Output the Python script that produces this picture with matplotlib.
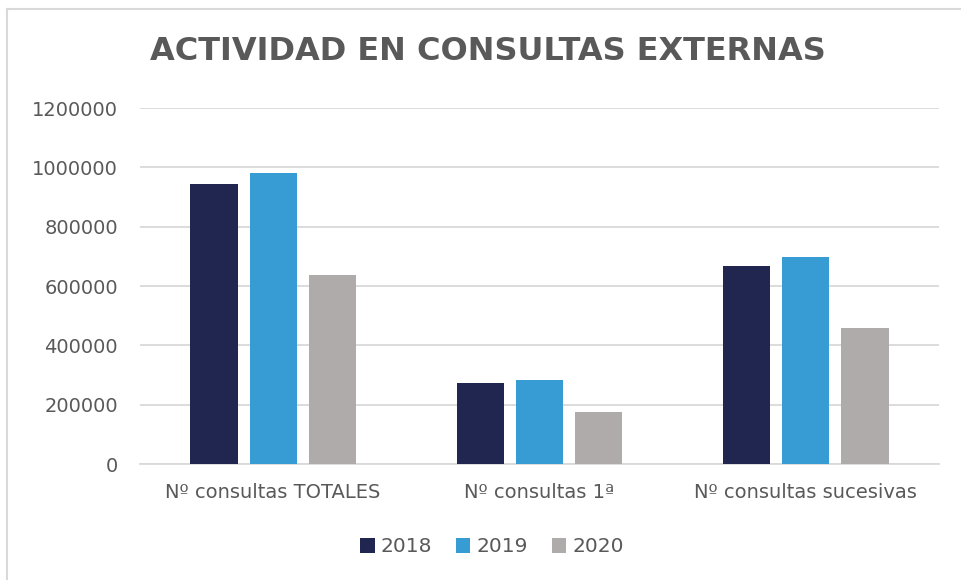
#! /usr/bin/env python3

import numpy as np
import matplotlib.pyplot as plt
from matplotlib.lines import Line2D
from matplotlib.ticker import FuncFormatter

categories = ['Nº consultas TOTALES', 'Nº consultas 1ª', 'Nº consultas sucesivas']
years = ['2018', '2019', '2020']
v2018 = [944000, 273000, 669000]
v2019 = [981000, 283000, 698000]
v2020 = [636000, 176000, 460000]
colors = ['#212650', '#389CD4', '#AFABAB']
grey = '#595959'

W, H = 961, 580
fig = plt.figure(figsize=(W/100, H/100), dpi=100)
ax = fig.add_axes([140/W, 1 - 464/H, (939-140)/W, (464-108)/H])

x = np.arange(len(categories))
width = 0.177
step = 0.222
for i, (vals, lab) in enumerate(zip([v2018, v2019, v2020], years)):
    ax.bar(x + (i-1)*step, vals, width, color=colors[i], label=lab, zorder=3)

ax.set_xlim(-0.5, 2.5)
ax.set_ylim(0, 1200000)
ax.set_yticks(np.arange(0, 1200001, 200000))
ax.yaxis.set_major_formatter(FuncFormatter(lambda v, p: '%d' % v))
ax.yaxis.grid(True, color='#D9D9D9', linewidth=1.3, zorder=0)
ax.set_xticks(x)
ax.set_xticklabels(categories)
ax.tick_params(axis='both', length=0, labelcolor=grey, labelsize=14)
ax.tick_params(axis='x', pad=14)
ax.tick_params(axis='y', pad=16)
for s in ['top', 'right', 'left']:
    ax.spines[s].set_visible(False)
ax.spines['bottom'].set_color('#D9D9D9')
ax.spines['bottom'].set_linewidth(1.3)

fig.text(488/W, 1 - 52/H, 'ACTIVIDAD EN CONSULTAS EXTERNAS', ha='center',
         va='center', fontsize=23, fontweight='bold', color=grey)

ax.legend(loc='center', bbox_to_anchor=(492/W, 1 - 547/H),
          bbox_transform=fig.transFigure, ncol=3, frameon=False,
          fontsize=14.5, labelcolor=grey, handlelength=0.7, handleheight=0.7,
          handletextpad=0.3, columnspacing=1.2)

# chart border (only left and top visible in the crop)
fig.add_artist(Line2D([7/W, 7/W], [0, 1 - 9/H], transform=fig.transFigure,
                      color='#D9D9D9', linewidth=1.5))
fig.add_artist(Line2D([7/W, 1], [1 - 9/H, 1 - 9/H], transform=fig.transFigure,
                      color='#D9D9D9', linewidth=1.5))

fig.savefig('out.png', dpi=100)
